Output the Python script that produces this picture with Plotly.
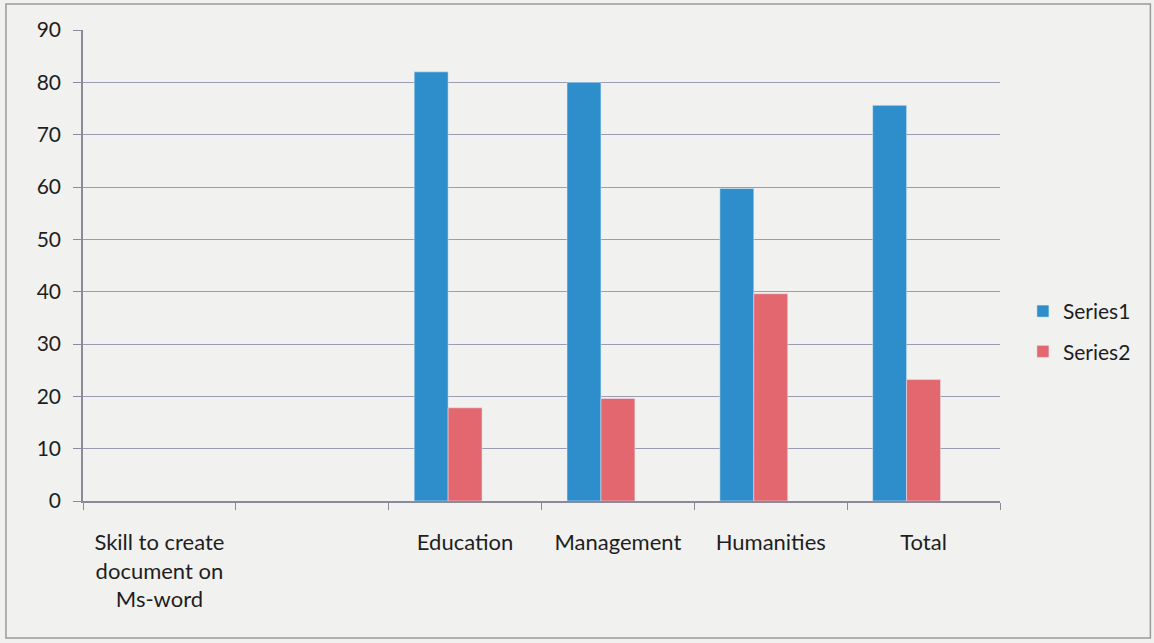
import plotly.graph_objects as go

categories = ["Skill to create<br>document on<br>Ms-word", " ", "Education", "Management", "Humanities", "Total"]
series1 = [None, None, 82.0, 80.0, 59.7, 75.6]
series2 = [None, None, 17.8, 19.6, 39.6, 23.2]
y_ticks = [0, 10, 20, 30, 40, 50, 60, 70, 80, 90]

FONT = "Lato"
BG = "#f1f1ef"
GRID = "#9a9cb2"

fig = go.Figure()
fig.add_trace(go.Bar(x=categories, y=series1, name="Series1", marker_color="#2e8ecb",
                     width=0.222, offset=-0.333, legendgroup="a"))
fig.add_trace(go.Bar(x=categories, y=series2, name="Series2", marker_color="#e2676f",
                     width=0.222, offset=-0.111, legendgroup="b"))

fig.update_layout(
    width=1154, height=643,
    margin=dict(l=83, r=154, t=30, b=142),
    paper_bgcolor=BG, plot_bgcolor=BG,
    font=dict(family=FONT, size=21, color="#1e1e1e"),
    showlegend=True,
    legend=dict(x=1.025, y=0.36, xanchor="left", yanchor="middle",
                font=dict(size=21), tracegroupgap=10, bgcolor="rgba(0,0,0,0)"),
    shapes=[dict(type="rect", xref="paper", yref="paper",
                 x0=-0.084, x1=1.164, y0=-0.291, y1=1.055,
                 line=dict(color="#9a9a9a", width=1.5))],
)
fig.update_xaxes(type="category", categoryorder="array", categoryarray=categories,
                 range=[-0.5, 5.5], tickson="boundaries", ticks="outside", ticklen=7,
                 tickcolor="#8a8a9a", showline=True, linecolor="#8a8a9a", linewidth=1.5,
                 showgrid=False, tickfont=dict(size=22), ticklabelstandoff=21)
fig.update_yaxes(range=[0, 90], tickvals=y_ticks, showgrid=True, gridcolor=GRID, gridwidth=1.2,
                 ticks="outside", ticklen=8, tickcolor="#8a8a9a", showline=True,
                 linecolor="#8a8a9a", linewidth=1.5, zeroline=False,
                 tickfont=dict(size=21), ticklabelstandoff=8)

fig.write_html("out.html")
